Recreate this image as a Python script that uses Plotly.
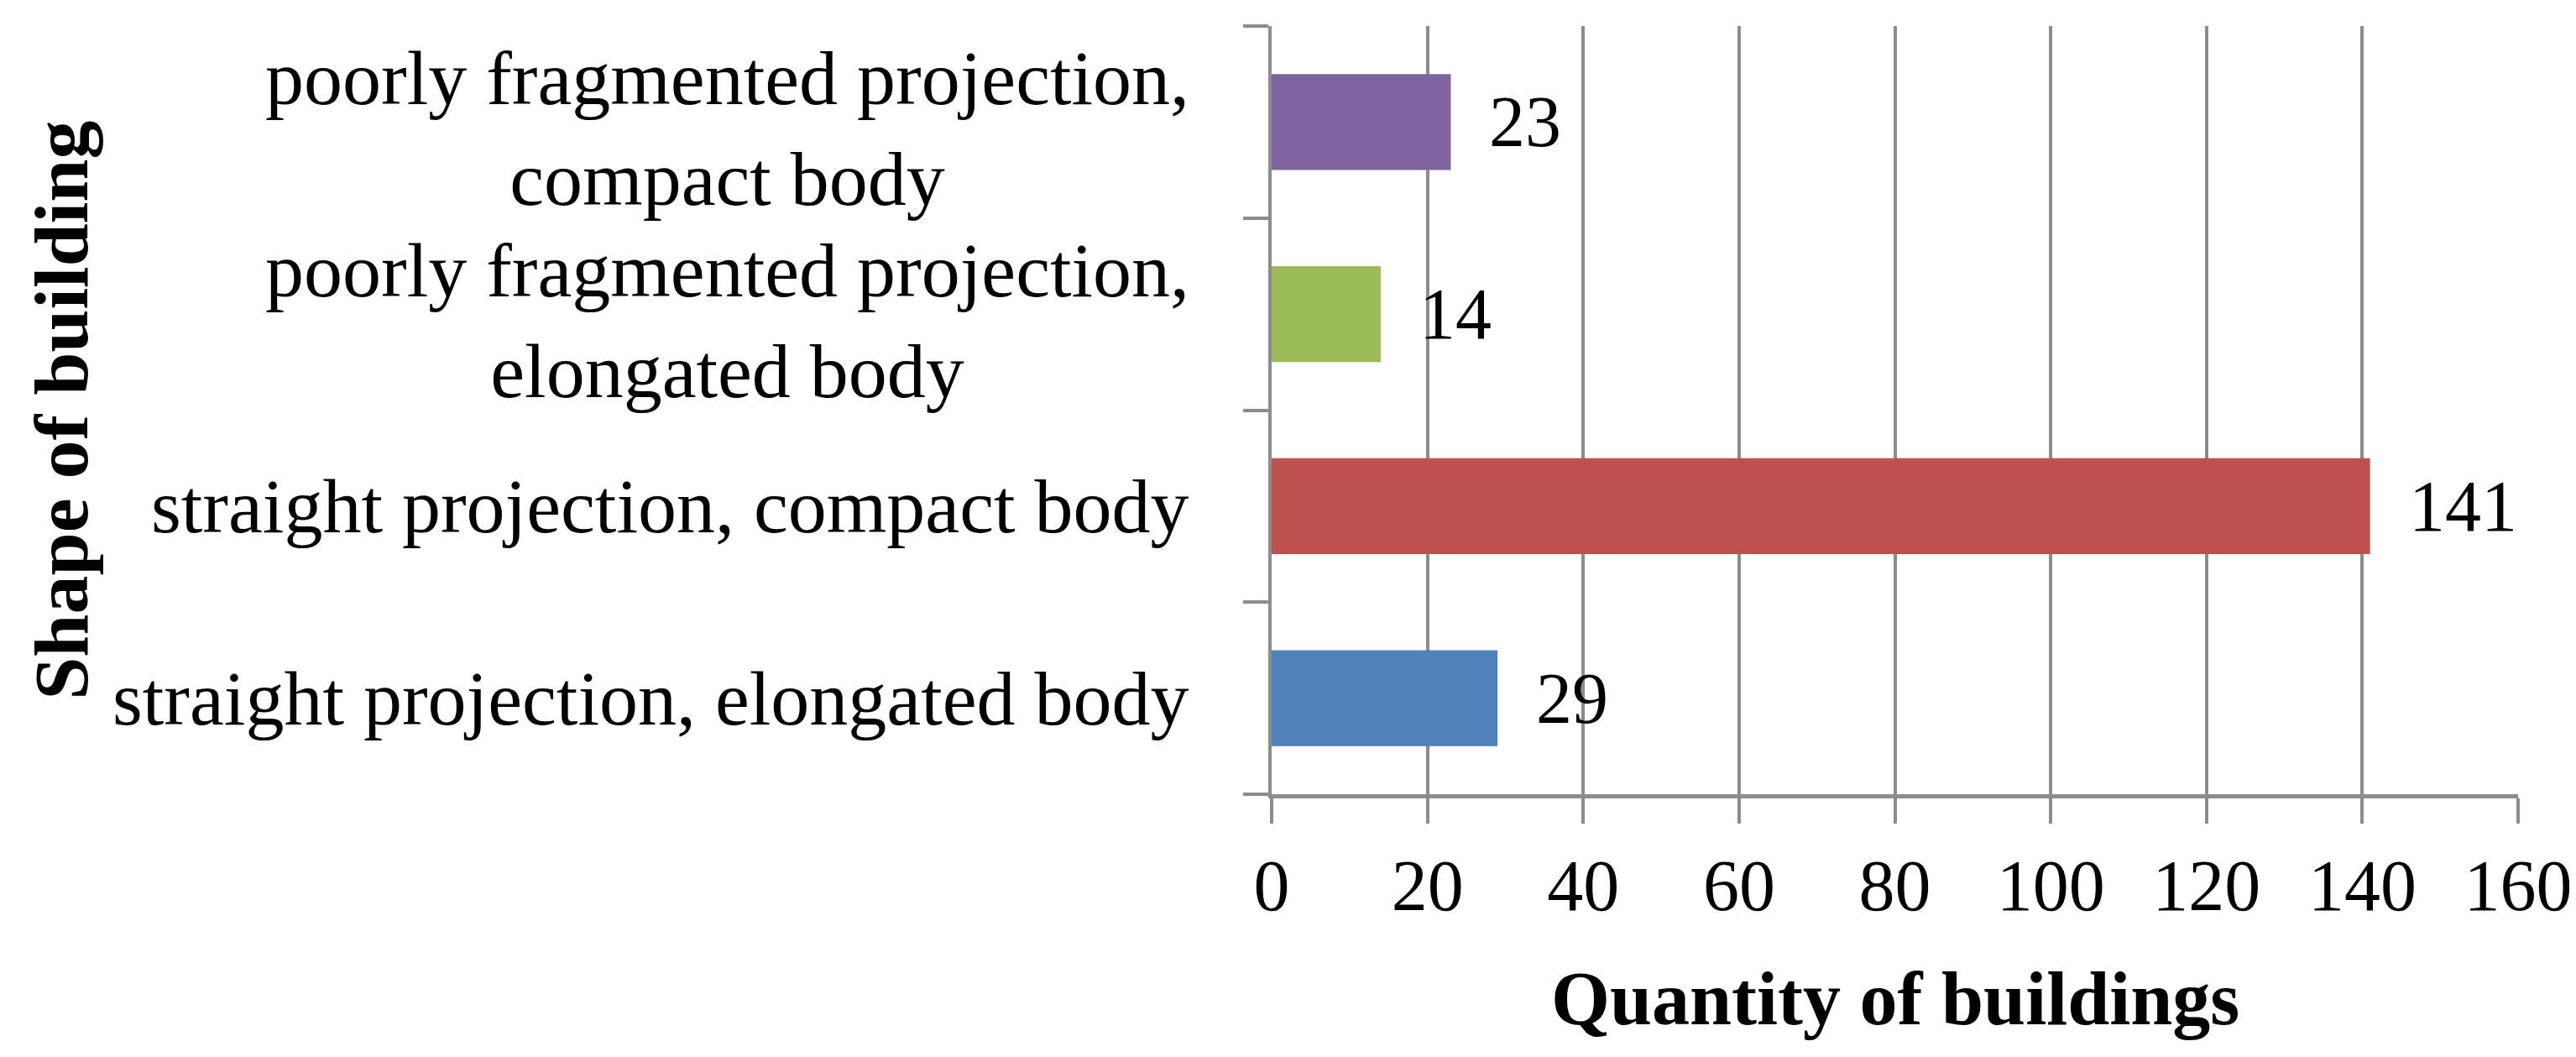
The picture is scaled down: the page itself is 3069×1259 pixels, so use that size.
import plotly.graph_objects as go

categories = [
    "straight projection, elongated body",
    "straight projection, compact body",
    "poorly fragmented projection, elongated body",
    "poorly fragmented projection, compact body",
]
tick_labels = [
    "straight projection, elongated body",
    "straight projection, compact body",
    "poorly fragmented projection,<br>elongated body",
    "poorly fragmented projection,<br>compact body",
]
values = [29, 141, 14, 23]
bar_colors = ["#4F81BD", "#C0504D", "#9BBB59", "#8064A2"]
x_ticks = [0, 20, 40, 60, 80, 100, 120, 140, 160]
x_title = "Quantity of buildings"
y_title = "Shape of building"

FONT = "Palatino Linotype, Book Antiqua, Palatino, Liberation Serif, serif"
GRID = "#8c8c8c"

fig = go.Figure()
fig.add_trace(go.Bar(
    x=values, y=categories, orientation="h",
    marker=dict(color=bar_colors, line=dict(width=0)),
    width=0.5, showlegend=False,
))

annotations = []
for c, v in zip(categories, values):
    annotations.append(dict(
        x=v, y=c, xref="x", yref="y", text=str(v), showarrow=False,
        xanchor="left", yanchor="middle", xshift=44,
        font=dict(family=FONT, size=86, color="black"),
    ))
for c, lab in zip(categories, tick_labels):
    annotations.append(dict(
        x=0, y=c, xref="paper", yref="y", text=lab, showarrow=False,
        xanchor="right", yanchor="middle", xshift=-96, align="center",
        yshift=-8 if "<br>" in lab else 0,
        font=dict(family=FONT, size=92, color="black"),
    ))
annotations.append(dict(
    x=0.5, y=-0.266, xref="paper", yref="paper", text="<b>%s</b>" % x_title,
    showarrow=False, xanchor="center", yanchor="middle",
    font=dict(family=FONT, size=90, color="black"),
))
annotations.append(dict(
    x=-0.9715, y=0.5, xref="paper", yref="paper", text="<b>%s</b>" % y_title,
    showarrow=False, xanchor="center", yanchor="middle", textangle=-90,
    font=dict(family=FONT, size=92, color="black"),
))

fig.update_layout(
    width=3069, height=1259,
    margin=dict(l=1507, r=73, t=23, b=321),
    paper_bgcolor="white", plot_bgcolor="white",
    annotations=annotations,
    xaxis=dict(
        range=[0, 160], tickmode="array", tickvals=x_ticks,
        ticktext=[str(t) for t in x_ticks],
        showgrid=True, gridcolor=GRID, gridwidth=4, zeroline=False,
        showline=True, linecolor=GRID, linewidth=5,
        ticks="outside", ticklen=30, tickwidth=4, tickcolor=GRID,
        ticklabelstandoff=0,
        tickfont=dict(family=FONT, size=86, color="black"),
    ),
    yaxis=dict(
        type="category", categoryorder="array", categoryarray=categories,
        showgrid=False, zeroline=False, showticklabels=False,
        showline=True, linecolor=GRID, linewidth=4,
        ticks="outside", tickson="boundaries", ticklen=30, tickwidth=4,
        tickcolor=GRID,
    ),
    bargap=0.5,
)

fig.write_html("out.html")
